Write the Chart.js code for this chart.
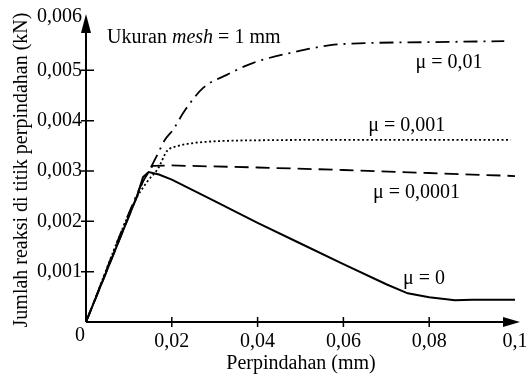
<!DOCTYPE html>
<html>
<head>
<meta charset="utf-8">
<script src="https://cdn.jsdelivr.net/npm/chart.js@4/dist/chart.umd.min.js"></script>
<style>
  html, body { margin: 0; padding: 0; background: #fff; }
  #wrap { width: 526px; height: 378px; }
</style>
</head>
<body>
<div id="wrap"><canvas id="chart" width="526" height="378"></canvas></div>
<script>
// displacement (mm) and reaction (kN)
const mu0X = [0, 0.0119, 0.0133, 0.0146, 0.017, 0.02, 0.03, 0.04, 0.05, 0.06, 0.07, 0.075, 0.08, 0.086, 0.09, 0.1];
const mu0Y = [0, 0.0025, 0.00288, 0.00298, 0.00293, 0.00283, 0.0024, 0.00197, 0.00156, 0.00115, 0.00075, 0.00057, 0.00049, 0.00043, 0.00044, 0.00044];

const mu00001X = [0, 0.0119, 0.0133, 0.0155, 0.02, 0.04, 0.06, 0.08, 0.1];
const mu00001Y = [0, 0.0025, 0.0028, 0.0031, 0.00311, 0.00307, 0.00302, 0.00296, 0.0029];

const mu0001X = [0, 0.0114, 0.0142, 0.0168, 0.0189, 0.0212, 0.0245, 0.028, 0.033, 0.04, 0.06, 0.08, 0.099];
const mu0001Y = [0, 0.0024, 0.00278, 0.00305, 0.0034, 0.00349, 0.00355, 0.00358, 0.0036, 0.00361, 0.00362, 0.00362, 0.00362];

const mu001X = [0, 0.0133, 0.0148, 0.0165, 0.0184, 0.0203, 0.0231, 0.0273, 0.0328, 0.039, 0.049, 0.057, 0.065, 0.08, 0.0975];
const mu001Y = [0, 0.0028, 0.00302, 0.0033, 0.00362, 0.00382, 0.00421, 0.00465, 0.00491, 0.00515, 0.00537, 0.0055, 0.00554, 0.00556, 0.00558];

const xTicks = [0.02, 0.04, 0.06, 0.08, 0.1];
const xTickLabels = ['0,02', '0,04', '0,06', '0,08', '0,1'];
const yTicks = [0.001, 0.002, 0.003, 0.004, 0.005, 0.006];
const yTickLabels = ['0,001', '0,002', '0,003', '0,004', '0,005', '0,006'];

const FONT = '20px "Liberation Serif", "Times New Roman", serif';

function pts(xs, ys) {
  return xs.map((x, i) => ({ x: x, y: ys[i] }));
}

// curve labels, placed in data units
const notes = [
  { x: 0.0768, y: 0.00515, text: 'μ = 0,01' },
  { x: 0.0658, y: 0.00389, text: 'μ = 0,001' },
  { x: 0.0669, y: 0.00256, text: 'μ = 0,0001' },
  { x: 0.0739, y: 0.00085, text: 'μ = 0' }
];

const axesPlugin = {
  id: 'axesPlugin',
  afterDraw(chart) {
    const ctx = chart.ctx;
    const xs = chart.scales.x;
    const ys = chart.scales.y;
    const x0 = xs.getPixelForValue(0);
    const y0 = ys.getPixelForValue(0);
    const yTop = ys.getPixelForValue(0.006);
    const xEnd = xs.getPixelForValue(0.1);

    ctx.save();
    ctx.strokeStyle = '#000';
    ctx.fillStyle = '#000';
    ctx.lineWidth = 2;

    // axes
    ctx.beginPath();
    ctx.moveTo(x0, y0);
    ctx.lineTo(x0, yTop + 10);
    ctx.moveTo(x0, y0);
    ctx.lineTo(xEnd - 8, y0);
    ctx.stroke();

    // arrow heads
    ctx.beginPath();
    ctx.moveTo(x0, yTop - 6);
    ctx.lineTo(x0 - 5, yTop + 13);
    ctx.lineTo(x0 + 5, yTop + 13);
    ctx.closePath();
    ctx.fill();
    ctx.beginPath();
    ctx.moveTo(xEnd + 5, y0);
    ctx.lineTo(xEnd - 12, y0 - 5);
    ctx.lineTo(xEnd - 12, y0 + 5);
    ctx.closePath();
    ctx.fill();

    // tick marks
    ctx.lineWidth = 1.5;
    ctx.beginPath();
    xTicks.slice(0, -1).forEach(v => {
      const px = xs.getPixelForValue(v);
      ctx.moveTo(px, y0 - 5);
      ctx.lineTo(px, y0 + 5);
    });
    yTicks.slice(0, -1).forEach(v => {
      const py = ys.getPixelForValue(v);
      ctx.moveTo(x0 - 5, py);
      ctx.lineTo(x0 + 8, py);
    });
    ctx.stroke();

    // tick labels
    ctx.font = FONT;
    ctx.textAlign = 'center';
    ctx.textBaseline = 'middle';
    xTicks.forEach((v, i) => {
      ctx.fillText(xTickLabels[i], xs.getPixelForValue(v), y0 + 20);
    });
    ctx.textAlign = 'right';
    yTicks.forEach((v, i) => {
      const py = ys.getPixelForValue(v);
      ctx.fillText(yTickLabels[i], x0 - 4, i === yTicks.length - 1 ? py - 3 : py);
    });
    ctx.fillText('0', x0 - 1, y0 + 14);

    // axis titles
    ctx.textAlign = 'center';
    ctx.fillText('Perpindahan (mm)', 301, 364);
    ctx.save();
    ctx.translate(22, 170);
    ctx.rotate(-Math.PI / 2);
    ctx.fillText('Jumlah reaksi di titik perpindahan (kN)', 0, 0);
    ctx.restore();

    // curve labels
    ctx.textAlign = 'left';
    notes.forEach(n => {
      ctx.fillText(n.text, xs.getPixelForValue(n.x), ys.getPixelForValue(n.y));
    });

    // mesh note with italic word
    let tx = xs.getPixelForValue(0.0049);
    const ty = ys.getPixelForValue(0.00564);
    const parts = [['Ukuran ', FONT], ['mesh', 'italic ' + FONT], [' = 1 mm', FONT]];
    parts.forEach(p => {
      ctx.font = p[1];
      ctx.fillText(p[0], tx, ty);
      tx += ctx.measureText(p[0]).width;
    });
    ctx.restore();
  }
};

const common = { borderColor: '#000', backgroundColor: '#000', pointRadius: 0, fill: false, showLine: true };

new Chart(document.getElementById('chart').getContext('2d'), {
  type: 'scatter',
  data: {
    datasets: [
      Object.assign({ label: 'μ = 0', data: pts(mu0X, mu0Y), borderWidth: 2, tension: 0 }, common),
      Object.assign({ label: 'μ = 0,0001', data: pts(mu00001X, mu00001Y), borderWidth: 1.8, borderDash: [14, 7], tension: 0 }, common),
      Object.assign({ label: 'μ = 0,001', data: pts(mu0001X, mu0001Y), borderWidth: 1.8, borderDash: [2, 2.5], cubicInterpolationMode: 'monotone' }, common),
      Object.assign({ label: 'μ = 0,01', data: pts(mu001X, mu001Y), borderWidth: 1.8, borderDash: [14, 6, 2, 6], cubicInterpolationMode: 'monotone' }, common)
    ]
  },
  options: {
    responsive: false,
    animation: false,
    layout: { padding: { left: 86, right: 11, top: 20, bottom: 56 } },
    scales: {
      x: { type: 'linear', min: 0, max: 0.1, display: false },
      y: { type: 'linear', min: 0, max: 0.006, display: false }
    },
    plugins: {
      legend: { display: false },
      tooltip: { enabled: false }
    }
  },
  plugins: [axesPlugin]
});
</script>
</body>
</html>
